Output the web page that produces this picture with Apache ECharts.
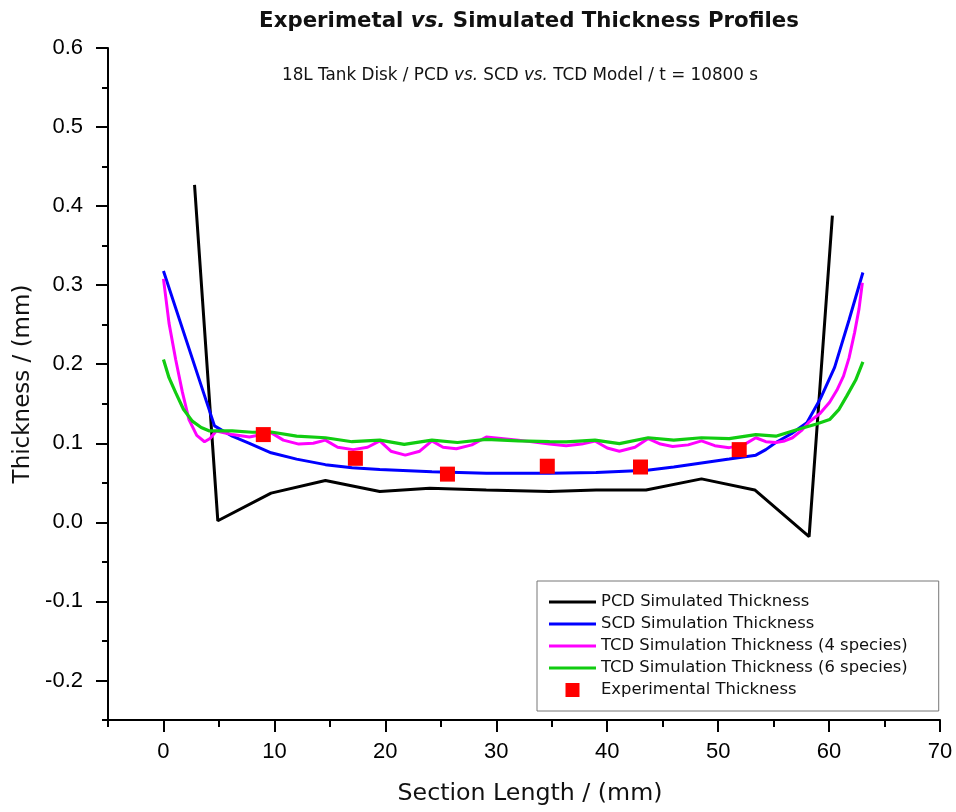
<!DOCTYPE html>
<html><head><meta charset="utf-8">
<script src="https://cdn.jsdelivr.net/npm/echarts@6/dist/echarts.min.js"></script>
<style>html,body{margin:0;padding:0;background:#fff}#c{width:956px;height:812px}</style>
</head><body><div id="c"></div>
<script>
// Series names
const seriesNames = [
  'PCD Simulated Thickness',
  'SCD Simulation Thickness',
  'TCD Simulation Thickness (4 species)',
  'TCD Simulation Thickness (6 species)',
  'Experimental Thickness'
];
// [section length (mm), thickness (mm)]
const pcd = [[2.8,0.427],[4.9,0.002],[9.7,0.037],[14.6,0.053],[19.5,0.039],[24.0,0.043],[29.1,0.041],[34.8,0.039],[39.0,0.041],[43.5,0.041],[48.5,0.055],[53.3,0.041],[58.2,-0.018],[60.3,0.388]];
const scd = [[0,0.318],[4.6,0.122],[6.2,0.109],[7.75,0.100],[9.7,0.088],[12.0,0.080],[14.6,0.073],[17.0,0.069],[19.5,0.067],[24.2,0.064],[29.1,0.062],[34.8,0.062],[39.0,0.063],[43.6,0.066],[46.0,0.070],[48.5,0.075],[51.0,0.080],[53.4,0.085],[54.3,0.092],[55.2,0.101],[56.6,0.112],[58.0,0.126],[59.2,0.156],[60.5,0.196],[61.8,0.256],[63.05,0.316]];
const tcd4 = [[0,0.308],[0.5,0.252],[1.1,0.206],[1.7,0.165],[2.3,0.130],[3.0,0.110],[3.7,0.102],[4.2,0.106],[4.75,0.1156],[6.2,0.111],[7.75,0.108],[9.7,0.1135],[10.8,0.104],[12.2,0.099],[13.5,0.100],[14.6,0.104],[15.7,0.095],[17.1,0.092],[18.4,0.095],[19.5,0.103],[20.5,0.090],[21.8,0.085],[23.1,0.090],[24.2,0.103],[25.2,0.095],[26.4,0.093],[27.8,0.098],[29.1,0.108],[32.0,0.104],[34.8,0.099],[36.3,0.097],[37.7,0.099],[38.9,0.103],[40.0,0.094],[41.1,0.090],[42.5,0.095],[43.7,0.106],[44.8,0.099],[45.9,0.096],[47.3,0.098],[48.5,0.103],[49.7,0.097],[51.0,0.0945],[52.3,0.098],[53.4,0.107],[54.3,0.102],[55.2,0.101],[56.0,0.103],[56.7,0.107],[57.5,0.116],[58.2,0.127],[59.2,0.138],[60.05,0.152],[60.7,0.167],[61.3,0.185],[61.8,0.208],[62.3,0.240],[62.7,0.270],[63.0,0.303]];
const tcd6 = [[0,0.206],[0.5,0.183],[1.1,0.164],[1.8,0.143],[2.6,0.128],[3.4,0.120],[4.15,0.1156],[6.2,0.1156],[8.0,0.114],[9.7,0.1143],[12.0,0.109],[14.6,0.107],[17.0,0.102],[19.5,0.104],[21.7,0.0987],[24.2,0.104],[26.5,0.101],[29.1,0.105],[32.0,0.103],[34.8,0.102],[36.3,0.1017],[38.9,0.104],[41.1,0.0996],[43.7,0.107],[46.0,0.104],[48.5,0.107],[51.0,0.106],[53.4,0.111],[55.2,0.109],[57.3,0.118],[58.8,0.124],[60.05,0.130],[60.9,0.143],[61.6,0.160],[62.4,0.180],[63.05,0.203]];
const experimental = [[9.0,0.111],[17.3,0.081],[25.6,0.061],[34.6,0.071],[43.0,0.070],[51.9,0.092]];
// Axis ticks
const xMajorTicks = [0,10,20,30,40,50,60,70];
const xMinorTicks = [-5,5,15,25,35,45,55,65];
const yMajorTicks = [-0.2,-0.1,0,0.1,0.2,0.3,0.4,0.5,0.6];
const yMinorTicks = [-0.25,-0.15,-0.05,0.05,0.15,0.25,0.35,0.45,0.55];

const chart = echarts.init(document.getElementById('c'), null, {renderer:'canvas'});
const titleFont = 'DejaVu Sans';
const tickFont = {fontFamily:'Liberation Sans', fontSize:22, color:'#000'};
const baseAxisX = {type:'value', min:-5, max:70, position:'bottom', splitLine:{show:false}};
const baseAxisY = {type:'value', min:-0.25, max:0.6, position:'left', splitLine:{show:false}};
const lineIcon = 'path://M0,0L47,0L47,3L0,3Z';
chart.setOption({
  animation:false,
  backgroundColor:'#fff',
  title:[
    {text:'{a|Experimetal }{b|vs.}{a| Simulated Thickness Profiles}', left:524, top:6, textAlign:'center',
     textStyle:{rich:{a:{fontFamily:titleFont,fontWeight:'bold',fontSize:21.3,color:'#111'},b:{fontFamily:titleFont,fontWeight:'bold',fontStyle:'italic',fontSize:21.3,color:'#111'}}}},
    {text:'{a|18L Tank Disk / PCD }{b|vs.}{a| SCD }{b|vs.}{a| TCD Model / t = 10800 s}', left:515, top:62, textAlign:'center',
     textStyle:{fontWeight:'normal', rich:{a:{fontFamily:titleFont,fontWeight:'normal',fontSize:16.8,color:'#111'},b:{fontFamily:titleFont,fontWeight:'normal',fontStyle:'italic',fontSize:16.8,color:'#111'}}}}
  ],
  grid:{left:108, right:16, top:48, bottom:92, containLabel:false},
  legend:{
    orient:'vertical', left:537, top:581, padding:[13,31,13,12],
    itemWidth:47, itemHeight:14, itemGap:6,
    borderColor:'#777', borderWidth:1, backgroundColor:'#fff',
    textStyle:{fontFamily:titleFont, fontSize:16.4, lineHeight:14, color:'#111'},
    data:[
      {name:seriesNames[0], icon:lineIcon},{name:seriesNames[1], icon:lineIcon},
      {name:seriesNames[2], icon:lineIcon},{name:seriesNames[3], icon:lineIcon},
      {name:seriesNames[4], icon:'path://M0,0L10,0L10,10L0,10Z'}
    ]
  },
  xAxis:[
    Object.assign({}, baseAxisX, {
      name:'Section Length / (mm)', nameLocation:'middle', nameGap:62,
      nameTextStyle:{fontFamily:titleFont, fontSize:23.7, color:'#111', padding:[0,0,0,12]},
      axisLine:{onZero:false, lineStyle:{color:'#000', width:2}},
      axisTick:{customValues:xMajorTicks, length:12, lineStyle:{color:'#000', width:2}},
      axisLabel:Object.assign({customValues:xMajorTicks, margin:21}, tickFont)
    }),
    Object.assign({}, baseAxisX, {
      axisLine:{show:false, onZero:false},
      axisTick:{customValues:xMinorTicks, length:7, lineStyle:{color:'#000', width:2}},
      axisLabel:{show:false}
    })
  ],
  yAxis:[
    Object.assign({}, baseAxisY, {
      name:'Thickness / (mm)', nameLocation:'middle', nameGap:72,
      nameTextStyle:{fontFamily:titleFont, fontSize:23, color:'#111'},
      axisLine:{onZero:false, lineStyle:{color:'#000', width:2}},
      axisTick:{customValues:yMajorTicks, length:12, lineStyle:{color:'#000', width:2}},
      axisLabel:Object.assign({customValues:yMajorTicks, margin:25, formatter:v=>Number(v).toFixed(1)}, tickFont)
    }),
    Object.assign({}, baseAxisY, {
      axisLine:{show:false, onZero:false},
      axisTick:{customValues:yMinorTicks, length:6, lineStyle:{color:'#000', width:2}},
      axisLabel:{show:false}
    })
  ],
  series:[
    {name:seriesNames[0], type:'line', data:pcd, symbol:'none', lineStyle:{color:'#000', width:3}, itemStyle:{color:'#000'}},
    {name:seriesNames[1], type:'line', data:scd, symbol:'none', lineStyle:{color:'#0000ff', width:3}, itemStyle:{color:'#0000ff'}},
    {name:seriesNames[2], type:'line', data:tcd4, symbol:'none', lineStyle:{color:'#ff00ff', width:3}, itemStyle:{color:'#ff00ff'}},
    {name:seriesNames[3], type:'line', data:tcd6, symbol:'none', lineStyle:{color:'#11cc11', width:3.2}, itemStyle:{color:'#11cc11'}},
    {name:seriesNames[4], type:'scatter', data:experimental, symbol:'rect', symbolSize:15, itemStyle:{color:'#ff0000', opacity:1}, z:5}
  ]
});
</script>
</body></html>
